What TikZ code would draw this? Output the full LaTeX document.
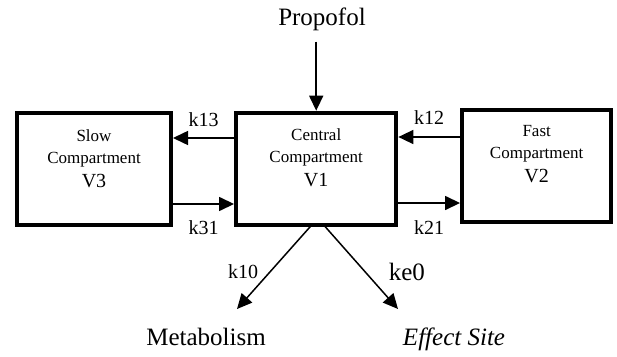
\documentclass[tikz,border=0pt]{standalone}
\usepackage{fontspec}
\setmainfont{Liberation Serif}
\usetikzlibrary{arrows.meta,positioning,calc}

\begin{document}
\begin{tikzpicture}[x=1pt,y=1pt,
    comp/.style={draw,line width=4pt,inner sep=0pt},
    comptext/.style={align=center,inner sep=0pt,font=\fontsize{17}{22}\selectfont},
    flow/.style={line width=1.5pt,-{Triangle[length=15pt,width=14pt]}},
    rate/.style={inner sep=2pt,font=\fontsize{20}{24}\selectfont},
    big/.style={inner sep=2pt,font=\fontsize{25}{30}\selectfont}]

       \useasboundingbox (0,0) rectangle (617,-356);

       % compartments
       \node[comp,minimum width=154pt,minimum height=112pt] (slow)    at ( 94.0,-168.7) {};
       \node[comp,minimum width=160.3pt,minimum height=112pt] (central) at (316.2,-168.7) {};
       \node[comp,minimum width=149.3pt,minimum height=112.5pt] (fast)    at (536.7,-166.0) {};

       \node[comptext,anchor=north] (slowtxt)    at ([yshift=-18.7pt]slow.north)
       {Slow\\Compartment\\[2pt]{\fontsize{20}{24}\selectfont V3}};
       \node[comptext,anchor=north] (centraltxt) at ([yshift=-17.6pt]central.north)
       {Central\\Compartment\\[2pt]{\fontsize{20}{24}\selectfont V1}};
       \node[comptext,anchor=north] (fasttxt)    at ([yshift=-17.7pt]fast.north)
       {Fast\\Compartment\\[2pt]{\fontsize{20}{24}\selectfont V2}};

       % input and outputs
       \node[big,anchor=base] (drug)   at (322,-25)  {Propofol};
       \node[big,anchor=base] (metab)  at (206,-345) {Metabolism};
       \node[big,anchor=base] (effect) at (454,-345) {\itshape Effect Site};

       \coordinate (metabtip)  at (237,-309);
       \coordinate (effecttip) at (398,-309);

       \draw[flow,shorten <=9pt] (central.north |- drug.south) -- (central.north);

       % exchange between compartments
       \draw[flow] ([yshift=30.7pt]central.west) -- node[rate,above=9pt] (k13) {k13} ([yshift=30.7pt]slow.east);
       \draw[flow] ([yshift=-35.3pt]slow.east) -- node[rate,below=14pt] (k31) {k31} ([yshift=-35.3pt]central.west);
       \draw[flow] ([yshift=29pt]fast.west) -- node[rate,above=10pt] (k12) {k12} ([yshift=31.7pt]central.east);
       \draw[flow] ([yshift=-34.3pt]central.east) -- node[rate,below=15pt] (k21) {k21} ([yshift=-37pt]fast.west);

       % elimination
       \draw[flow] ([xshift=-6pt]central.south) -- node[rate,pos=0.55,left=9pt] (k10) {k10} (metabtip);
       \draw[flow] ([xshift=9pt]central.south) -- node[rate,font=\fontsize{25}{30}\selectfont,pos=0.55,right=20.8pt] (ke0) {ke0} (effecttip);
     \end{tikzpicture}
\end{document}
